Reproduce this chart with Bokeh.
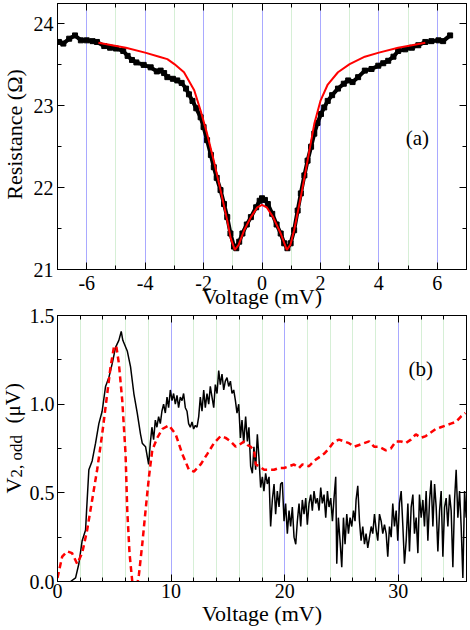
import math
from bokeh.plotting import figure
from bokeh.layouts import column, row
from bokeh.models import (Range1d, LinearAxis, SingleIntervalTicker, Label,
                          CustomJSTickFormatter)
from bokeh.core.properties import value
from bokeh.embed import file_html
from bokeh.resources import INLINE

# ---------------- panel (a): resistance vs voltage ----------------
res_v = [-6.95, -6.8, -6.6, -6.4, -6.2, -6.0, -5.8, -5.65, -5.4, -5.2, -5.0, -4.75,
         -4.6, -4.45, -4.3, -4.05, -3.81, -3.6, -3.47, -3.35, -3.24, -3.05, -2.9, -2.75,
         -2.6, -2.5, -2.38, -2.25, -2.1, -2.0, -1.88, -1.75, -1.65, -1.55, -1.42, -1.3,
         -1.19, -1.08, -0.96, -0.88, -0.78, -0.67, -0.52, -0.38, -0.2, -0.08, 0.0, 0.1,
         0.2, 0.35, 0.5, 0.64, 0.76, 0.87, 0.98, 1.1, 1.22, 1.33, 1.45, 1.56, 1.68, 1.79,
         1.9, 2.02, 2.13, 2.25, 2.4, 2.6, 2.8, 2.95, 3.1, 3.29, 3.52, 3.75, 3.98, 4.15,
         4.32, 4.5, 4.66, 4.9, 5.13, 5.35, 5.59, 5.8, 6.04, 6.2, 6.44]
res_r = [23.78, 23.76, 23.82, 23.86, 23.80, 23.80, 23.79, 23.78, 23.73, 23.71, 23.70, 23.67,
         23.61, 23.56, 23.53, 23.50, 23.47, 23.42, 23.43, 23.40, 23.35, 23.33, 23.31, 23.28,
         23.21, 23.14, 23.06, 22.97, 22.86, 22.74, 22.58, 22.40, 22.25, 22.12, 21.97, 21.80,
         21.64, 21.44, 21.28, 21.26, 21.34, 21.44, 21.55, 21.64, 21.76, 21.84, 21.87, 21.85,
         21.80, 21.68, 21.55, 21.44, 21.32, 21.26, 21.32, 21.48, 21.72, 21.93, 22.15, 22.33,
         22.50, 22.66, 22.79, 22.90, 22.98, 23.06, 23.13, 23.21, 23.27, 23.31, 23.29, 23.35,
         23.43, 23.45, 23.49, 23.52, 23.55, 23.60, 23.67, 23.69, 23.71, 23.74, 23.78, 23.79,
         23.80, 23.79, 23.86]

fit_v = [-5.6, -5.13, -4.66, -4.0, -3.52, -3.24, -3.0, -2.67, -2.32, -2.1, -1.88, -1.65,
         -1.42, -1.19, -1.07, -0.93, -0.8, -0.61, -0.38, -0.16, 0.0, 0.16, 0.38, 0.64,
         0.85, 0.97, 1.1, 1.33, 1.56, 1.79, 2.0, 2.25, 2.6, 3.0, 3.52, 4.0, 4.66, 5.13, 5.59]
fit_r = [23.77, 23.74, 23.71, 23.65, 23.60, 23.57, 23.51, 23.41, 23.19, 22.94, 22.66, 22.33,
         21.97, 21.60, 21.38, 21.24, 21.30, 21.48, 21.64, 21.76, 21.79, 21.76, 21.64, 21.44,
         21.24, 21.30, 21.48, 21.89, 22.33, 22.78, 23.06, 23.26, 23.41, 23.51, 23.60, 23.65,
         23.71, 23.74, 23.77]

# ---------------- panel (b): V2,odd vs voltage (measured, black) ----------------
meas_v = [1.15, 1.59, 1.88, 2.17, 2.47, 2.56, 2.76, 3.05, 3.35, 3.64, 3.93, 4.23, 4.52,
          4.82, 5.11, 5.40, 5.61, 5.75, 6.14, 6.43, 6.72, 7.02, 7.31, 7.46, 7.75,
          8.02, 8.17, 8.31, 8.46, 8.61, 8.75, 8.9, 9.05, 9.19, 9.34,
          9.49, 9.64, 9.78, 9.93, 10.08, 10.22, 10.37, 10.52, 10.66, 10.81,
          10.96, 11.1, 11.25, 11.4, 11.54, 11.69, 11.84, 11.98, 12.13, 12.28,
          12.43, 12.57, 12.72, 12.87, 13.01, 13.16, 13.31, 13.45, 13.6, 13.75,
          13.89, 14.04, 14.19, 14.33, 14.48, 14.63, 14.77, 14.92, 15.07, 15.22,
          15.36, 15.51, 15.66, 15.8, 15.95, 16.1, 16.24, 16.39,
          16.56, 16.71, 16.85, 17.0, 17.15, 17.29, 17.44, 17.59, 17.73, 17.88,
          18.03, 18.17, 18.32, 18.47, 18.62, 18.76, 18.91, 19.06, 19.2, 19.35,
          19.5, 19.64, 19.79, 19.94, 20.08, 20.23, 20.38, 20.52, 20.67, 20.82,
          20.97, 21.11, 21.26, 21.41, 21.55, 21.7, 21.85, 21.99, 22.14, 22.29,
          22.43, 22.58, 22.73, 22.87, 23.02, 23.17, 23.31, 23.46, 23.61, 23.76,
          23.9, 24.05, 24.2, 24.34, 24.49, 24.58, 24.72, 24.87, 25.02, 25.17,
          25.31, 25.46, 25.61, 25.75, 25.9, 26.05, 26.19,
          26.28, 26.43, 26.58, 26.72, 26.87, 27.02, 27.16, 27.31, 27.46, 27.61,
          27.75, 27.9, 28.05, 28.19, 28.34, 28.49, 28.63, 28.78, 28.93, 29.07,
          29.22, 29.37, 29.51, 29.66, 29.81, 29.95, 30.1, 30.25, 30.4, 30.54,
          30.69, 30.84, 30.98, 31.13, 31.28, 31.42, 31.57, 31.72, 31.86, 32.01,
          32.16, 32.3, 32.45, 32.6, 32.75, 32.89, 33.04, 33.19, 33.33, 33.48,
          33.63, 33.77, 33.92, 34.07, 34.21, 34.36, 34.51, 34.65, 34.8, 34.95,
          35.09, 35.24, 35.39, 35.53, 35.68, 35.83, 35.97]
meas_val = [0.0, 0.02, 0.10, 0.23, 0.29, 0.40, 0.63, 0.68, 0.78, 0.89, 0.96, 1.10, 1.15,
            1.23, 1.32, 1.36, 1.41, 1.36, 1.30, 1.21, 1.06, 0.95, 0.83, 0.78, 0.76,
            0.66, 0.78, 0.87, 0.80, 0.91, 0.87, 0.93, 0.89, 0.96, 1.00,
            0.95, 1.04, 0.98, 1.08, 1.02, 1.06, 1.00, 1.05, 0.98, 1.04,
            1.02, 1.06, 0.98, 0.96, 0.89, 0.87, 0.90, 0.86, 0.88, 0.87,
            0.93, 1.04, 0.96, 1.08, 0.98, 1.06, 1.00, 1.10, 1.04, 0.98,
            1.11, 1.06, 1.19, 1.11, 1.17, 1.08, 1.13, 1.15, 1.10, 1.13,
            1.06, 1.08, 1.02, 0.95, 1.00, 0.81, 0.91, 0.78,
            0.93, 0.79, 0.87, 0.65, 0.61, 0.76, 0.63, 0.83, 0.70, 0.53,
            0.59, 0.51, 0.61, 0.55, 0.59, 0.31, 0.46, 0.55, 0.38, 0.51,
            0.42, 0.55, 0.56, 0.34, 0.44, 0.27, 0.40, 0.31, 0.42, 0.25,
            0.21, 0.34, 0.44, 0.31, 0.46, 0.38, 0.47, 0.32, 0.44, 0.49,
            0.40, 0.51, 0.44, 0.47, 0.40, 0.53, 0.44, 0.49, 0.36, 0.51,
            0.42, 0.47, 0.34, 0.47, 0.59, 0.10, 0.36, 0.23, 0.08, 0.36,
            0.21, 0.38, 0.27, 0.36, 0.31, 0.40, 0.34,
            0.46, 0.54, 0.34, 0.23, 0.31, 0.21, 0.27, 0.19, 0.25, 0.31,
            0.27, 0.38, 0.29, 0.23, 0.38, 0.34, 0.27, 0.32, 0.27, 0.14,
            0.31, 0.25, 0.44, 0.31, 0.40, 0.23, 0.44, 0.51, 0.31, 0.10,
            0.23, 0.44, 0.17, 0.42, 0.49, 0.27, 0.36, 0.16, 0.49, 0.36,
            0.46, 0.31, 0.51, 0.23, 0.46, 0.57, 0.31, 0.55, 0.42, 0.17,
            0.40, 0.51, 0.14, 0.42, 0.47, 0.31, 0.49, 0.40, 0.08, 0.46,
            0.63, 0.36, 0.51, 0.31, 0.02, 0.51, 0.36]

# ---------------- panel (b): calculated (red dashed) ----------------
calc_v = [0.0, 0.41, 0.85, 1.28, 1.73, 2.17, 2.61, 3.05, 3.49, 3.93, 4.38, 4.67, 4.96,
          5.17, 5.40, 5.70, 5.99, 6.14, 6.34, 6.58, 6.85, 7.17, 7.46, 7.75, 8.05, 8.34,
          8.78, 9.22, 9.81, 10.40, 10.98, 11.57, 12.01, 12.6, 13.19, 13.77, 14.36, 14.80,
          15.24, 15.68, 15.98, 16.42, 16.71, 17.0, 17.3, 17.45, 17.74, 18.18, 18.62,
          19.06, 19.5, 19.94, 20.38, 20.82, 21.26, 21.56, 22.14, 22.58, 23.02, 23.46,
          23.9, 24.35, 24.79, 25.22, 25.66, 26.11, 26.55, 26.99, 27.43, 27.87, 28.31,
          28.9, 29.34, 29.78, 30.22, 30.66, 31.1, 31.54, 31.98, 32.42, 32.86, 33.3,
          33.74, 34.18, 34.62, 35.07, 35.51, 35.9]
calc_val = [0.02, 0.14, 0.17, 0.16, 0.10, 0.16, 0.29, 0.46, 0.63, 0.83, 1.06, 1.21, 1.32,
            1.33, 1.23, 1.02, 0.72, 0.40, 0.16, 0.0, -0.08, 0.04, 0.21, 0.40, 0.59, 0.74,
            0.81, 0.86, 0.88, 0.83, 0.72, 0.63, 0.62, 0.66, 0.72, 0.78, 0.82, 0.81,
            0.79, 0.76, 0.77, 0.79, 0.77, 0.76, 0.74, 0.66, 0.65, 0.63, 0.63,
            0.63, 0.64, 0.64, 0.65, 0.66, 0.64, 0.66, 0.65, 0.68, 0.70, 0.72,
            0.75, 0.79, 0.80, 0.79, 0.78, 0.76, 0.77, 0.78, 0.79, 0.76, 0.76,
            0.74, 0.75, 0.79, 0.79, 0.78, 0.80, 0.83, 0.81, 0.82, 0.84, 0.86,
            0.87, 0.88, 0.89, 0.90, 0.93, 0.95]

FONT = "Liberation Serif, DejaVu Serif, serif"
MAJOR_GRID = "#a9a9ff"
MINOR_GRID = "#d6efd6"
LAB_W = 120


def style_axis(ax, ticker, show_labels=True, digits=0):
    ax.ticker = ticker
    ax.axis_line_color = "black"
    ax.axis_line_width = 1
    ax.major_tick_in = 7
    ax.major_tick_out = 0
    ax.minor_tick_in = 4
    ax.minor_tick_out = 0
    ax.major_tick_line_color = "black"
    ax.minor_tick_line_color = "black"
    ax.major_label_text_font = FONT
    ax.major_label_text_font_size = "20px"
    ax.major_label_text_color = "black"
    ax.major_label_standoff = 4
    ax.axis_label_text_font = FONT
    ax.axis_label_text_font_size = "22px"
    ax.axis_label_text_font_style = "normal"
    ax.axis_label_text_color = "black"
    ax.axis_label_standoff = 2
    if show_labels:
        ax.formatter = CustomJSTickFormatter(code="return tick.toFixed(%d)" % digits)
    else:
        ax.formatter = CustomJSTickFormatter(code="return ''")
        ax.major_label_text_font_size = "1px"
        ax.major_label_standoff = 0
        ax.axis_label_standoff = 0


def make_fig(height, xr, yr, btop, bbottom, xtick, ytick, ydigits):
    p = figure(width=470, height=height, x_range=Range1d(*xr), y_range=Range1d(*yr),
               output_backend="svg", toolbar_location=None,
               min_border_left=57, min_border_right=4,
               min_border_top=btop, min_border_bottom=bbottom)
    p.outline_line_color = "black"
    p.outline_line_width = 1
    p.background_fill_color = "white"
    p.border_fill_color = None
    bottom_ax = p.xaxis[0]
    left_ax = p.yaxis[0]
    style_axis(bottom_ax, xtick)
    style_axis(left_ax, ytick, digits=ydigits)
    p.xgrid.ticker = xtick
    p.xgrid.grid_line_color = MAJOR_GRID
    p.xgrid.grid_line_width = 1
    p.xgrid.minor_grid_line_color = MINOR_GRID
    p.xgrid.minor_grid_line_width = 1
    p.ygrid.visible = False
    top_ax = LinearAxis()
    style_axis(top_ax, xtick, show_labels=False)
    p.add_layout(top_ax, "above")
    right_ax = LinearAxis()
    style_axis(right_ax, ytick, show_labels=False)
    p.add_layout(right_ax, "right")
    return p, bottom_ax, left_ax


def make_label_fig(height, yrange, btop, bbottom):
    """Transparent figure lying beneath a panel's left border; holds the y title."""
    f = figure(width=LAB_W, height=height, x_range=Range1d(0, LAB_W), y_range=yrange,
               output_backend="svg", toolbar_location=None,
               x_axis_location=None, y_axis_location=None,
               min_border_left=0, min_border_right=0,
               min_border_top=btop, min_border_bottom=bbottom)
    f.outline_line_color = None
    f.background_fill_color = None
    f.border_fill_color = None
    f.grid.visible = False
    return f


ang = math.pi / 2

# ---- top panel (frame 3..269) ----
xt1 = SingleIntervalTicker(interval=2, num_minor_ticks=2)
yt1 = SingleIntervalTicker(interval=1, num_minor_ticks=2)
p1, bx1, ly1 = make_fig(312, (-7, 7), (21, 24.25), 3, 43, xt1, yt1, 0)
bx1.axis_label = "Voltage (mV)"
bx1.major_label_standoff = 6
bx1.axis_label_standoff = -9

p1.line(res_v, res_r, line_color="black", line_width=4)
p1.scatter(res_v, res_r, marker="square", size=5, color="black")
p1.line(fit_v, fit_r, line_color="red", line_width=2)
p1.add_layout(Label(x=5.32, y=22.61, text="(a)", text_font=FONT, text_font_size="21px",
                    text_align="center", text_baseline="middle", text_color="black"))

lab1 = make_label_fig(312, p1.y_range, 3, 43)
lab1.text(x=[13.5], y=[22.65], text=["Resistance (\u03a9)"], angle=ang,
          text_font=value(FONT), text_font_size="22px", text_align="center",
          text_baseline="middle", text_color="black")

# ---- bottom panel (frame 315..581) ----
xt2 = SingleIntervalTicker(interval=10, num_minor_ticks=5)
yt2 = SingleIntervalTicker(interval=0.5, num_minor_ticks=2)
p2, bx2, ly2 = make_fig(335, (0, 36), (0, 1.5), 20, 49, xt2, yt2, 1)
bx2.axis_label = "Voltage (mV)"
bx2.major_label_standoff = 2
bx2.axis_label_standoff = 0
ly2.major_label_standoff = 3

p2.line(meas_v, meas_val, line_color="black", line_width=1.5)
p2.line(calc_v, calc_val, line_color="red", line_width=2.5, line_dash="6 4")
p2.add_layout(Label(x=31.98, y=1.20, text="(b)", text_font=FONT, text_font_size="21px",
                    text_align="center", text_baseline="middle", text_color="black"))

lab2 = make_label_fig(335, p2.y_range, 20, 49)
lab2.text(x=[12.5], y=[0.496], text=["V"], angle=ang, text_font=value(FONT),
          text_font_size="22px", text_align="left", text_baseline="middle",
          text_color="black")
lab2.text(x=[15.5], y=[0.587], text=["2, odd"], angle=ang, text_font=value(FONT),
          text_font_size="17px", text_align="left", text_baseline="middle",
          text_color="black")
lab2.text(x=[12.5], y=[0.891], text=["(\u03bcV)"], angle=ang, text_font=value(FONT),
          text_font_size="21px", text_align="left", text_baseline="middle",
          text_color="black")

p1.margin = (0, 0, 0, -LAB_W)
p2.margin = (0, 0, 0, -LAB_W)
top_row = row(lab1, p1, spacing=0)
bottom_row = row(lab2, p2, spacing=0)
bottom_row.margin = (-17, 0, 0, 0)
layout = column(top_row, bottom_row, spacing=0)
open("out.html", "w").write(file_html(layout, INLINE))
